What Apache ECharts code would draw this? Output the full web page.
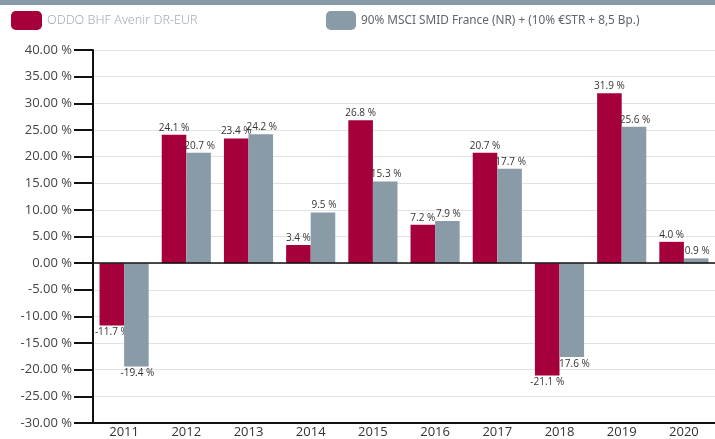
<!DOCTYPE html>
<html><head><meta charset="utf-8">
<script src="https://cdn.jsdelivr.net/npm/echarts@6/dist/echarts.min.js"></script>
<style>html,body{margin:0;padding:0;background:#fff}#c{width:715px;height:439px}</style>
</head><body><div id="c"></div>
<script>
const categories = ['2011','2012','2013','2014','2015','2016','2017','2018','2019','2020'];
const fundName = 'ODDO BHF Avenir DR-EUR';
const benchName = '90% MSCI SMID France (NR) + (10% €STR + 8,5 Bp.)';
const fundValues = [-11.7, 24.1, 23.4, 3.4, 26.8, 7.2, 20.7, -21.1, 31.9, 4.0];
const benchValues = [-19.4, 20.7, 24.2, 9.5, 15.3, 7.9, 17.7, -17.6, 25.6, 0.9];

const font = '"Open Sans", "Noto Sans", sans-serif';
function mk(vals){
  return vals.map(v => ({value: v, label: {position: v < 0 ? 'bottom' : 'top'}}));
}
const chart = echarts.init(document.getElementById('c'));
chart.setOption({
  animation: false,
  graphic: [{type:'rect', shape:{x:0,y:0,width:715,height:5}, style:{fill:'#8899a7'}}],
  legend: [
    {left: 11, top: 11, padding: 0, itemWidth: 31, itemHeight: 19, itemGap: 10, icon: 'roundRect',
     textStyle: {color: '#a3adb4', fontSize: 12.6, fontFamily: '"Noto Sans", sans-serif', fontWeight: 300, padding: [0,0,0,0]},
     data: [fundName]},
    {left: 326, top: 11, padding: 0, itemWidth: 30, itemHeight: 19, itemGap: 10, icon: 'roundRect',
     textStyle: {color: '#5f666b', fontSize: 11.8, fontFamily: '"Noto Sans", sans-serif', padding: [0,0,0,0]},
     data: [benchName]}
  ],
  grid: {left: 93, right: -5, top: 50, bottom: 16},
  xAxis: {
    type: 'category', data: categories,
    axisLine: {onZero: false, lineStyle: {color: '#111', width: 2}},
    axisTick: {inside: false, length: 16, lineStyle: {color: '#111', width: 2}},
    axisLabel: {color: '#333', fontSize: 13, fontFamily: font, margin: 3}
  },
  yAxis: {
    type: 'value', min: -30, max: 40, interval: 5,
    axisLine: {show: true, lineStyle: {color: '#111', width: 2}},
    axisTick: {show: true, length: 19, lineStyle: {color: '#111', width: 2}},
    axisLabel: {color: '#444', fontSize: 13, fontFamily: font, margin: 21,
      formatter: v => v.toFixed(2) + ' %'},
    splitLine: {lineStyle: {color: '#e2e2e2', width: 1}}
  },
  series: [
    {name: fundName, type: 'bar', z: 2, data: mk(fundValues), barGap: '0%', barCategoryGap: '21%',
     itemStyle: {color: '#a5003c'},
     label: {show: true, color: '#333', fontSize: 10, fontFamily: font, distance: 2,
       formatter: p => p.value.toFixed(1) + ' %'},
     markLine: {silent: true, symbol: 'none', label: {show: false},
       lineStyle: {color: '#111', width: 1.5, type: 'solid'}, data: [{yAxis: 0}]}},
    {name: benchName, type: 'bar', z: 3, data: mk(benchValues),
     itemStyle: {color: '#8a9ba8'},
     label: {show: true, color: '#333', fontSize: 10, fontFamily: font, distance: 2, offset: [1, 0],
       formatter: p => p.value.toFixed(1) + ' %'}}
  ]
});
</script></body></html>
